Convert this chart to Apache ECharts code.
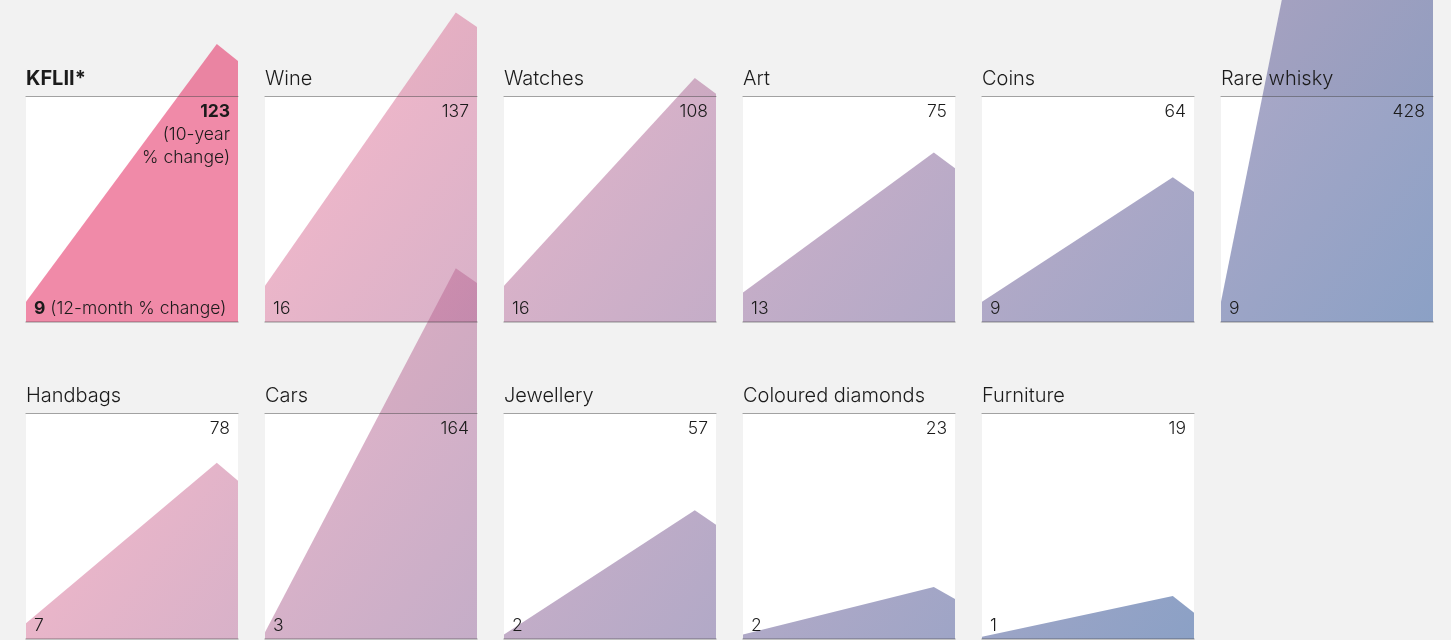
<!DOCTYPE html>
<html>
<head>
<meta charset="utf-8">
<style>
html,body{margin:0;padding:0;background:#f2f2f2;}
#chart{width:1451px;height:640px;}
</style>
<script src="https://cdn.jsdelivr.net/npm/echarts@6/dist/echarts.min.js"></script>
</head>
<body>
<div id="chart"></div>
<script>
// ---- data ----
const names = ['KFLII*', 'Wine', 'Watches', 'Art', 'Coins', 'Rare whisky',
               'Handbags', 'Cars', 'Jewellery', 'Coloured diamonds', 'Furniture'];
const tenYearChange = [123, 137, 108, 75, 64, 428, 78, 164, 57, 23, 19];
const twelveMonthChange = [9, 16, 16, 13, 9, 9, 7, 3, 2, 2, 1];
const endValues = [115.5, 130.5, 101, 68, 57.5, 421, 70, 157.5, 50.5, 17.7, 11.6];
const xPositions = [0, 0.9, 1];

// ---- layout ----
const LEFT0 = 26, COLSTEP = 239, W = 212, H = 226, TOPS = [96, 413], PER_ROW = 6;
const FONT = 'Inter, "Noto Sans", sans-serif';
const TEXT = '#1b1b1b';

const gradient = {
  type: 'linear', x: 192, y: 144, x2: 1088, y2: 816, global: true,
  colorStops: [
    { offset: 0, color: 'rgba(243,115,149,0.5)' },
    { offset: 1, color: 'rgba(20,66,140,0.5)' }
  ]
};
const kfliiColor = 'rgba(225,21,81,0.5)';

const grids = [], xAxes = [], yAxes = [], series = [], graphics = [];

names.forEach((name, i) => {
  const row = i < PER_ROW ? 0 : 1;
  const col = i < PER_ROW ? i : i - PER_ROW;
  const left = LEFT0 + col * COLSTEP;
  const top = TOPS[row];
  grids.push({ left: left, top: top, width: W, height: H, show: true,
    backgroundColor: '#ffffff', borderWidth: 0 });
  const hidden = { axisTick: { show: false }, axisLabel: { show: false }, splitLine: { show: false } };
  xAxes.push(Object.assign({ gridIndex: i, type: 'value', min: 0, max: 1, position: 'bottom', z: 5,
    axisLine: { show: true, onZero: false, lineStyle: { color: 'rgba(60,60,60,0.35)', width: 1.5 } } }, hidden));
  xAxes.push(Object.assign({ gridIndex: i, type: 'value', min: 0, max: 1, position: 'top', z: 5,
    axisLine: { show: true, onZero: false, lineStyle: { color: 'rgba(70,70,70,0.5)', width: 1 } } }, hidden));
  yAxes.push({ gridIndex: i, type: 'value', min: 0, max: 100, show: false });
  const vals = [twelveMonthChange[i], tenYearChange[i], endValues[i]];
  series.push({
    type: 'line', xAxisIndex: 2 * i, yAxisIndex: i, clip: false, silent: true,
    symbol: 'none', lineStyle: { width: 0, opacity: 0 },
    areaStyle: { color: i === 0 ? kfliiColor : gradient, opacity: 1 },
    data: xPositions.map((x, k) => [x, vals[k]])
  });

  const W3 = i === 0 ? 'bold ' : '300 ';
  // titles
  graphics.push({ type: 'text', x: left, y: top - 17, z: 10,
    style: { text: name, fill: TEXT, font: W3 + '20px ' + FONT,
      textAlign: 'left', textVerticalAlign: 'middle' } });
  // 10-year value
  graphics.push({ type: 'text', x: left + W - 8, y: top + 16, z: 10,
    style: { text: String(tenYearChange[i]), fill: TEXT, font: W3 + '17.5px ' + FONT,
      textAlign: 'right', textVerticalAlign: 'middle' } });
  // 12-month value
  if (i === 0) {
    graphics.push({ type: 'text', x: left + W - 8, y: top + 39, z: 10,
      style: { text: '(10-year', fill: TEXT, font: '300 17.5px ' + FONT, textAlign: 'right', textVerticalAlign: 'middle' } });
    graphics.push({ type: 'text', x: left + W - 8, y: top + 62, z: 10,
      style: { text: '% change)', fill: TEXT, font: '300 17.5px ' + FONT, textAlign: 'right', textVerticalAlign: 'middle' } });
    graphics.push({ type: 'text', x: left + 8, y: top + H - 13, z: 10,
      style: { text: '{b|' + twelveMonthChange[i] + '} (12-month % change)', fill: TEXT, font: '300 17.5px ' + FONT,
        textAlign: 'left', textVerticalAlign: 'middle',
        rich: { b: { fontWeight: 'bold', fontSize: 17.5, fontFamily: FONT, fill: TEXT, color: TEXT } } } });
  } else {
    graphics.push({ type: 'text', x: left + 8, y: top + H - 13, z: 10,
      style: { text: String(twelveMonthChange[i]), fill: TEXT, font: '300 17.5px ' + FONT,
        textAlign: 'left', textVerticalAlign: 'middle' } });
  }
});

const chart = echarts.init(document.getElementById('chart'), null, { renderer: 'canvas' });
chart.setOption({
  backgroundColor: '#f2f2f2',
  animation: false,
  grid: grids,
  xAxis: xAxes,
  yAxis: yAxes,
  series: series,
  graphic: graphics
});
</script>
</body>
</html>
